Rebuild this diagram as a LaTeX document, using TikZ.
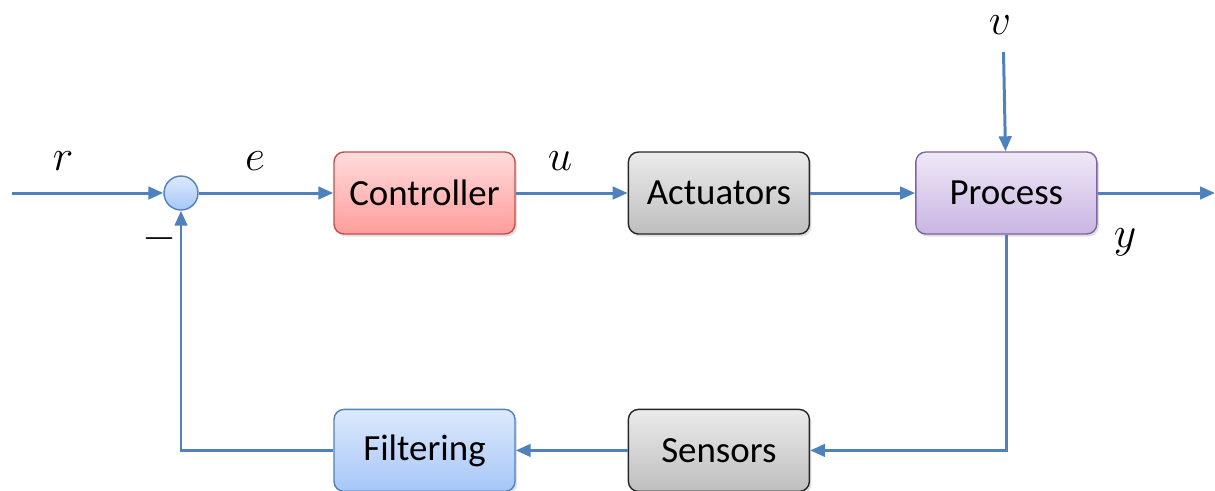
\documentclass[tikz,border=0pt]{standalone}
\usepackage{fontspec}
\setsansfont{Carlito}
\usepackage{tikz}
\usetikzlibrary{positioning,arrows.meta,shadows}
\definecolor{linkblue}{HTML}{4F81BD}
\definecolor{ctrltop}{HTML}{FFDCDC}
\definecolor{ctrlbot}{HTML}{FF9C9C}
\definecolor{ctrlline}{HTML}{C0504D}
\definecolor{procttop}{HTML}{EFE8F7}
\definecolor{procbot}{HTML}{C9B5E2}
\definecolor{procline}{HTML}{8064A2}
\definecolor{filttop}{HTML}{DDE9FC}
\definecolor{filtbot}{HTML}{A6C6F7}
\definecolor{grytop}{HTML}{EBEBEB}
\definecolor{grybot}{HTML}{BEBEBE}
\tikzstyle{block}=[draw, rounded corners=0.2cm, line width=0.8pt, minimum width=3.62cm, minimum height=1.64cm, font=\sffamily\fontsize{21}{25}\selectfont, drop shadow={opacity=0.25,shadow xshift=0.04cm,shadow yshift=-0.05cm}]
\tikzstyle{arrow}=[draw=linkblue, line width=1.7pt, -{Triangle[length=0.3cm,width=0.25cm]}]
\tikzstyle{sig}=[font=\fontsize{24}{28}\selectfont, inner sep=1pt]

\begin{document}
\begin{tikzpicture}
    \useasboundingbox (0,0) rectangle (24.3,-9.8);
    % forward path
    \node [block, draw=ctrlline, top color=ctrltop, bottom color=ctrlbot] (ctrl) at (8.49,-3.86) {Controller};
    \node [block, draw=black!85, top color=grytop, bottom color=grybot, right=2.24cm of ctrl] (act) {Actuators};
    \node [block, draw=procline, top color=procttop, bottom color=procbot, right=2.1cm of act] (proc) {Process};
    % feedback path
    \node [block, draw=black!85, top color=grytop, bottom color=grybot, below=3.48cm of act] (sens) {Sensors};
    \node [block, draw=linkblue, top color=filttop, bottom color=filtbot, left=2.24cm of sens] (filt) {Filtering};
    \node [circle, draw=linkblue, line width=0.8pt, minimum size=0.68cm, inner sep=0pt, top color=filttop, bottom color=filtbot] (sum) at (3.62,-3.86) {};
    \coordinate (in) at (0.24,-3.86);
    \coordinate (out) at (24.3,-3.86);
    \coordinate (dist) at (20.07,-1.04);
    % signal labels
    \node [sig] (r) at (1.26,-3.22) {$r$};
    \node [sig] (e) at (5.1,-3.22) {$e$};
    \node [sig] (u) at (11.2,-3.22) {$u$};
    \node [sig] (v) at (20.0,-0.5) {$v$};
    \node [sig] (y) at (22.5,-4.84) {$y$};
    \node [sig] (minus) at (3.2,-4.78) {$-$};
    \draw[arrow] (in) -- (sum);
    \draw[arrow] (sum) -- (ctrl);
    \draw[arrow] (ctrl) -- (act);
    \draw[arrow] (act) -- (proc);
    \draw[arrow] (proc) -- (out);
    \draw[arrow] (dist) -- (proc);
    \draw[arrow] (sens) -- (filt);
    \draw[arrow] (proc.south) |- (sens.east);
    \draw[arrow] (filt.west) -| (sum.south);
\end{tikzpicture}
\end{document}
